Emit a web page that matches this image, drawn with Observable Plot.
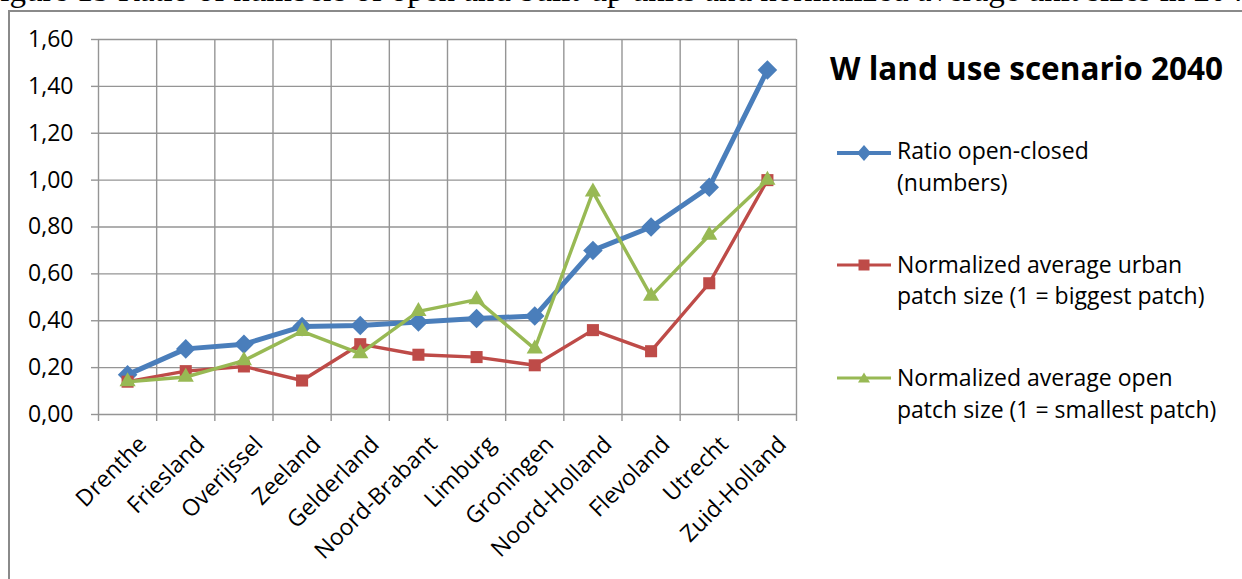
<!DOCTYPE html>
<html>
<head>
<meta charset="utf-8">
<script src="https://cdn.jsdelivr.net/npm/d3@7"></script>
<script src="https://cdn.jsdelivr.net/npm/@observablehq/plot@0.6"></script>
<style>
  body { margin: 0; background: #fff; }
  #wrap { position: relative; width: 1242px; height: 579px; overflow: hidden; font-family: "Open Sans", sans-serif; color: #000; }
  #caption { position: absolute; left: -18px; top: -26.5px; font-family: "Liberation Serif", serif; font-size: 33px; line-height: 33px; white-space: nowrap; }
  #frame { position: absolute; left: 8px; top: 10px; width: 1300px; height: 700px; border: 2px solid #8a8a8a; background: #fff; }
  #chart { position: absolute; left: 0; top: 0; }
  #title { position: absolute; left: 830px; top: 52px; font-size: 31.5px; line-height: 32px; font-weight: 700; white-space: nowrap; }
  .item { position: absolute; left: 836px; }
  .item svg { position: absolute; left: 0; }
  .item .lab { position: absolute; left: 61px; font-size: 23px; line-height: 31.5px; white-space: nowrap; }
</style>
</head>
<body>
<div id="wrap">
  <div id="caption"></div>
  <div id="frame"></div>
  <div id="chart"></div>
  <div id="title"></div>
  <div id="legend"></div>
</div>
<script>
const captionText = "Figure 15 Ratio of numbers of open and built-up units and normalized average unit sizes in 2040";
const chartTitle = "W land use scenario 2040";
const provinces = ["Drenthe", "Friesland", "Overijssel", "Zeeland", "Gelderland", "Noord-Brabant", "Limburg", "Groningen", "Noord-Holland", "Flevoland", "Utrecht", "Zuid-Holland"];
const ratioOpenClosed = [0.17, 0.28, 0.30, 0.375, 0.38, 0.395, 0.41, 0.42, 0.70, 0.80, 0.97, 1.47];
const urbanPatchSize = [0.14, 0.185, 0.205, 0.145, 0.30, 0.255, 0.245, 0.21, 0.36, 0.27, 0.56, 1.00];
const openPatchSize = [0.14, 0.16, 0.23, 0.355, 0.26, 0.44, 0.49, 0.28, 0.95, 0.505, 0.765, 1.00];
const seriesNames = [
  ["Ratio open-closed", "(numbers)"],
  ["Normalized average urban", "patch size  (1 = biggest patch)"],
  ["Normalized average open", "patch size  (1 = smallest patch)"]
];
const seriesColors = ["#4A7EBB", "#BE4B48", "#98B954"];
const seriesSymbols = ["diamond2", "square", "triangle"];
const yTicks = [0, 0.2, 0.4, 0.6, 0.8, 1.0, 1.2, 1.4, 1.6];

document.getElementById("caption").textContent = captionText;
document.getElementById("title").textContent = chartTitle;

const seriesValues = [ratioOpenClosed, urbanPatchSize, openPatchSize];
const seriesRows = seriesValues.map(vals => vals.map((v, i) => ({i, v})));
const centers = provinces.map((_, i) => i);
const bounds = d3.range(provinces.length + 1).map(i => i - 0.5);
const gridColor = "#959595";
const lineWidths = [5, 3.4, 3.4];
const dotR = [8.8, 6.8, 6.0];

const marks = [
  Plot.gridY(yTicks, {stroke: gridColor, strokeOpacity: 1, strokeWidth: 1.4}),
  Plot.gridX(bounds, {stroke: gridColor, strokeOpacity: 1, strokeWidth: 1.4}),
  Plot.axisY(yTicks, {anchor: "left", tickSize: 7, tickPadding: 18, stroke: gridColor, strokeWidth: 1.4,
    tickFormat: d => d3.format(".2f")(d).replace(".", ","), fontSize: 23, fill: "#000"}),
  Plot.axisX(bounds, {anchor: "bottom", tickSize: 7, stroke: gridColor, strokeWidth: 1.4, tickFormat: () => ""}),
  Plot.axisX(centers, {anchor: "bottom", tickSize: 0, tickPadding: 26, tickRotate: -45, dx: 15,
    tickFormat: i => provinces[i], fontSize: 23, fill: "#000"})
];
seriesRows.forEach((rows, k) => {
  marks.push(Plot.lineY(rows, {x: "i", y: "v", stroke: seriesColors[k], strokeWidth: lineWidths[k], strokeLinejoin: "round"}));
  marks.push(Plot.dot(rows, {x: "i", y: "v", symbol: seriesSymbols[k], r: dotR[k], fill: seriesColors[k], stroke: "none"}));
});

const chart = Plot.plot({
  width: 820,
  height: 579,
  marginLeft: 98,
  marginRight: 24,
  marginTop: 39,
  marginBottom: 165,
  style: {fontFamily: "Open Sans", fontSize: "23px", background: "transparent", overflow: "visible", color: "#000"},
  x: {type: "linear", domain: [-0.5, provinces.length - 0.5], label: null},
  y: {domain: [0, 1.6], label: null},
  marks
});
document.getElementById("chart").appendChild(chart);

// Legend
const legendTops = [135, 248.5, 362];
const legendMarkerY = [152.7, 265, 378.3];
const legend = document.getElementById("legend");
const legendSymbol = [
  (c) => `<path d="M28,2 L35,10 L28,18 L21,10 Z" fill="${c}"/>`,
  (c) => `<rect x="22.5" y="4.5" width="11" height="11" fill="${c}"/>`,
  (c) => `<path d="M28,4.5 L34,14.5 L22,14.5 Z" fill="${c}"/>`
];
seriesNames.forEach((lines, k) => {
  const item = document.createElement("div");
  item.className = "item";
  item.style.top = legendTops[k] + "px";
  const my = legendMarkerY[k] - legendTops[k] - 10;
  item.innerHTML = `<svg width="56" height="20" style="top:${my}px"><line x1="1" x2="55" y1="10" y2="10" stroke="${seriesColors[k]}" stroke-width="${k === 0 ? 4 : 3}"/>${legendSymbol[k](seriesColors[k])}</svg>` +
    `<div class="lab">${lines[0]}<br>${lines[1]}</div>`;
  legend.appendChild(item);
});
</script>
</body>
</html>
